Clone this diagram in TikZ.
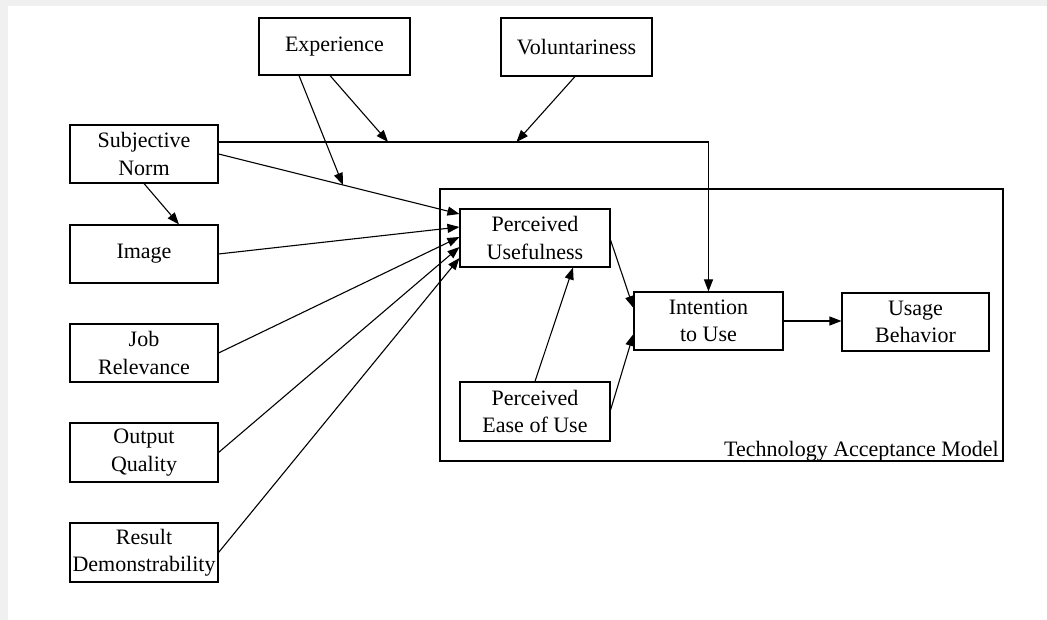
\documentclass[tikz,border=0pt]{standalone}
\usepackage{fontspec}
\setmainfont{Liberation Serif}
\usetikzlibrary{arrows.meta,calc}
\begin{document}
\begin{tikzpicture}[x=1pt,y=-1pt,
  every node/.style={font=\fontsize{22}{27.5}\selectfont},
  box/.style={draw, line width=1.1pt, align=center, inner sep=0pt, minimum height=58pt},
  lw/.style={line width=1.1pt},
  arr/.style={line width=1.1pt, -{Triangle[length=12pt,width=9pt]}}]
\useasboundingbox (0,0) rectangle (1047,620);
\fill[gray!12] (0,0) rectangle (1047,620);
\fill[white] (8,6) rectangle (1047,620);
% TAM frame
\node[draw, line width=1.1pt, minimum width=563pt, minimum height=272pt, inner sep=0pt] (tam) at (721.5,325) {};
\node[anchor=base east, inner sep=0pt] (tamlabel) at (999,456) {Technology Acceptance Model};
% left column
\node[box, minimum width=151pt, minimum height=57pt] (exp) at (334.5,46.5) {Experience};
\node[box, minimum width=151pt] (vol) at (576.5,47) {Voluntariness};
\node[box, minimum width=148pt] (sn) at (144,154) {Subjective\\Norm};
\node[box, minimum width=148pt] (img) at (144,254) {Image};
\node[box, minimum width=148pt] (job) at (144,353) {Job\\Relevance};
\node[box, minimum width=148pt, minimum height=59pt] (out) at (144,452.5) {Output\\Quality};
\node[box, minimum width=148pt, minimum height=59pt] (res) at (144,552.5) {Result\\Demonstrability};
% TAM nodes
\node[box, minimum width=150pt] (pu) at (535,238) {Perceived\\Usefulness};
\node[box, minimum width=150pt, minimum height=59pt] (peou) at (535,411.5) {Perceived\\Ease of Use};
\node[box, minimum width=149pt] (int) at (708.5,321) {Intention\\to Use};
\node[box, minimum width=147pt] (use) at (915.5,322) {Usage\\Behavior};
% connectors
\draw[arr] (sn.south) -- ([xshift=35pt]img.north);
\draw[arr] (sn.east) -- coordinate[pos=0.516] (e1) ([yshift=24pt]pu.west);
\draw[arr] (img.east) -- ([yshift=11pt]pu.west);
\draw[arr] (job.east) -- ([yshift=1pt]pu.west);
\draw[arr] (out.east) -- ([yshift=-9pt]pu.west);
\draw[arr] (res.east) -- ([yshift=-20pt]pu.west);
\draw[arr] ([yshift=12pt]sn.east) -| coordinate[pos=0.173] (e2) coordinate[pos=0.304] (e3) (int.north);
\draw[arr] ([xshift=-35.5pt]exp.south) -- (e1);
\draw[arr] ([xshift=-4.5pt]exp.south) -- (e2);
\draw[arr] ([xshift=-1.5pt]vol.south) -- (e3);
\draw[arr] ([yshift=-2pt]pu.east) -- ([yshift=13pt]int.west);
\draw[arr] ([yshift=1.5pt]peou.east) -- ([yshift=-13pt]int.west);
\draw[arr] (peou.north) -- ([xshift=38pt]pu.south);
\draw[arr] (int.east) -- (int.east -| use.west);
\end{tikzpicture}
\end{document}
